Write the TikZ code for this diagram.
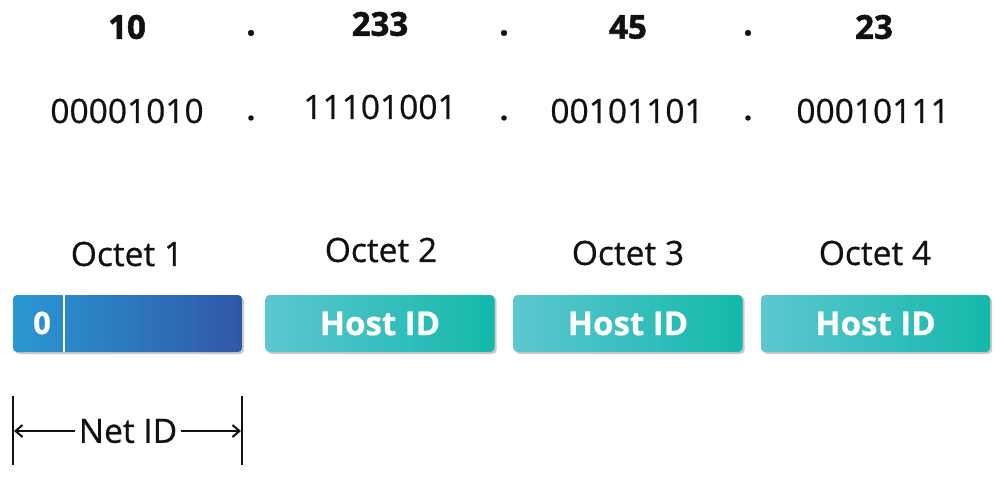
\documentclass[tikz,border=0pt]{standalone}
\usepackage{fontspec}
\setmainfont{Open Sans}[FakeBold=0.6]
\newfontfamily\heavyfont{Open Sans}[UprightFont=* Bold, FakeBold=1.6]
\newfontfamily\semifont{Open Sans}[UprightFont=*, FakeBold=0.7]
\usetikzlibrary{shadows,calc,arrows.meta}
\definecolor{netL}{HTML}{2A98D3}
\definecolor{netR}{HTML}{3057A8}
\definecolor{hostL}{HTML}{5CC7D0}
\definecolor{hostR}{HTML}{14B8AB}
\definecolor{txt}{HTML}{111111}
\tikzset{
  big/.style={font=\fontsize{33.5}{38}\selectfont\semifont, text=txt, inner sep=0pt},
  bigb/.style={font=\fontsize{33}{38}\selectfont\heavyfont, text=txt, inner sep=0pt},
  octbox/.style={minimum width=229pt, minimum height=57pt, rounded corners=4pt, inner sep=0pt,
     drop shadow={shadow xshift=2pt, shadow yshift=-2pt, opacity=0.35, fill=black!60}},
  netbox/.style={octbox, left color=netL, right color=netR},
  hostbox/.style={octbox, left color=hostL, right color=hostR, text=white,
     font=\fontsize{33}{38}\selectfont\bfseries},
  dim/.style={line width=2pt, draw=txt},
  dimarrow/.style={dim, -{Straight Barb[length=7pt,width=12pt]}}
}
\begin{document}
\begin{tikzpicture}[x=1pt,y=-1pt]
\useasboundingbox (0,0) rectangle (1000,487);
% decimal row
\node[bigb] (d1) at (127,27) {10};
\node[bigb] (p1) at (251,33) {.};
\node[bigb] (d2) at (380,24) {233};
\node[bigb] (p2) at (504,33) {.};
\node[bigb] (d3) at (628,27) {45};
\node[bigb] (p3) at (748,33) {.};
\node[bigb] (d4) at (874,27) {23};
% binary row
\node[big] (b1) at (127,111) {00001010};
\node[bigb, font=\fontsize{30}{36}\selectfont\bfseries] (q1) at (251,118) {.};
\node[big] (b2) at (380,107) {11101001};
\node[bigb, font=\fontsize{30}{36}\selectfont\bfseries] (q2) at (504,118) {.};
\node[big] (b3) at (627,111) {00101101};
\node[bigb, font=\fontsize{30}{36}\selectfont\bfseries] (q3) at (748,118) {.};
\node[big] (b4) at (873,111) {00010111};
% octet labels
\node[big] (o1) at (127,254) {Octet 1};
\node[big] (o2) at (381,250) {Octet 2};
\node[big] (o3) at (628,253) {Octet 3};
\node[big] (o4) at (875,253) {Octet 4};
% boxes
\node[netbox] (x1) at (127.5,323.5) {};
\node[hostbox] (x2) at (380,323.5) {Host ID};
\node[hostbox] (x3) at (628,323.5) {Host ID};
\node[hostbox] (x4) at (875.5,323.5) {Host ID};
\draw[white, line width=2.2pt] ($(x1.north west)+(51,0)$) -- ($(x1.south west)+(51,0)$);
\node[text=white, font=\fontsize{31}{36}\selectfont\bfseries, inner sep=0pt] (zero) at (42,323) {0};
% Net ID dimension
\coordinate (l1) at (13,396);
\coordinate (l2) at (13,465);
\coordinate (r1) at (242,396);
\coordinate (r2) at (242,465);
\coordinate (la) at (14,431);
\coordinate (ra) at (241,431);
\draw[dim] (l1) -- (l2);
\draw[dim] (r1) -- (r2);
\node[big, inner xsep=4pt] (net) at (128,431) {Net ID};
\draw[dimarrow] (net.west) -- (la);
\draw[dimarrow] (net.east) -- (ra);
\end{tikzpicture}
\end{document}
